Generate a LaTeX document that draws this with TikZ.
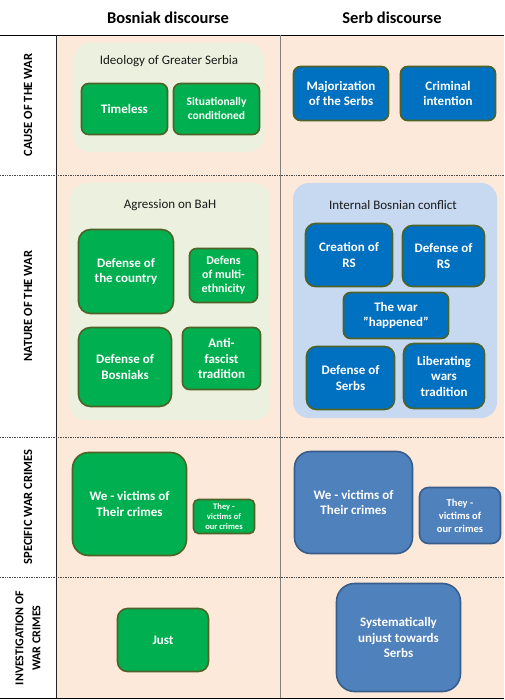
\documentclass[tikz,border=0pt]{standalone}
\usepackage{fontspec}
\setmainfont{Carlito}
\usetikzlibrary{positioning}
\definecolor{peach}{HTML}{FDE9D9}
\definecolor{grnfill}{HTML}{00B050}
\definecolor{olive}{HTML}{4F6228}
\definecolor{blufill}{HTML}{0070C0}
\definecolor{steel}{HTML}{4F81BD}
\definecolor{steeledge}{HTML}{385D8A}
\definecolor{grpgreen}{HTML}{EBF1DE}
\definecolor{grpblue}{HTML}{C6D9F1}
\tikzset{
  box/.style={draw,line width=1.6pt,rounded corners=7pt,align=center,text=white,
              font=\fontsize{13}{15.5}\selectfont\bfseries,inner sep=2pt},
  gbox/.style={box,fill=grnfill,draw=olive},     % green, Bosniak side
  bbox/.style={box,fill=blufill,draw=olive},     % dark blue, Serb side
  sbox/.style={box,fill=steel,draw=steeledge,rounded corners=12pt}, % steel blue
  grp/.style={rounded corners=16pt,inner sep=0pt},
  ttl/.style={font=\fontsize{13}{15.5}\selectfont,text=black!90},
  rowlbl/.style={rotate=90,font=\fontsize{12.5}{15}\selectfont\bfseries,align=center},
  hdr/.style={font=\fontsize{16.5}{19}\selectfont\bfseries},
  sep/.style={densely dotted,black!70,line width=0.7pt}
}

\begin{document}
\begin{tikzpicture}[x=1pt,y=-1pt]
  \useasboundingbox (0,0) rectangle (504,700);
  \fill[peach] (56,35) rectangle (504,698);

  % column heads
  \node[hdr] (bosh) at (168,18) {Bosniak discourse};
  \node[hdr] (serh) at (392,18) {Serb discourse};

  % grid
  \draw[line width=0.8pt] (0,35) -- (504,35);
  \draw[line width=0.8pt] (0,698) -- (504,698);
  \draw[line width=0.8pt,black!85] (56,35) -- (56,698);
  \draw[line width=0.9pt,black!50] (280,35) -- (280,698);
  \draw[sep] (0,175) -- (504,175);
  \draw[sep] (0,437) -- (504,437);
  \draw[sep] (0,577) -- (504,577);

  % row labels
  \node[rowlbl] (cause) at (28,105) {CAUSE OF THE WAR};
  \node[rowlbl] (nature) at (28,306) {NATURE OF THE WAR};
  \node[rowlbl] (spec) at (28,507) {SPECIFIC WAR CRIMES};
  \node[rowlbl,font=\fontsize{12}{17}\selectfont\bfseries] (invest) at (28,638)
    {INVESTIGATION OF\\WAR CRIMES};

  % cause of the war
  \node[grp,fill=grpgreen,minimum width=190pt,minimum height=109pt] (ideo) at (169,97.5) {};
  \node[ttl] (ideot) at (169,61) {Ideology of Greater Serbia};
  \node[gbox,minimum width=86pt,minimum height=51pt] (timeless) at (124.5,109) {Timeless};
  \node[gbox,minimum width=86pt,minimum height=51pt,font=\fontsize{11.5}{14}\selectfont\bfseries]
    (situ) at (216.5,109) {Situationally\\conditioned};
  \node[bbox,minimum width=95pt,minimum height=54pt] (major) at (341,93.5) {Majorization\\of the Serbs};
  \node[bbox,minimum width=95pt,minimum height=54pt] (crim) at (448,93.5) {Criminal\\intention};

  % nature of the war
  \node[grp,fill=grpgreen,minimum width=200pt,minimum height=237pt] (aggr) at (170,301.5) {};
  \node[ttl] (aggrt) at (170,205) {Agression on BaH};
  \node[gbox,minimum width=95pt,minimum height=84pt,rounded corners=12pt] (dcountry) at (126,271.5)
    {Defense of\\the country};
  \node[gbox,minimum width=68pt,minimum height=54pt,font=\fontsize{12}{14}\selectfont\bfseries]
    (dmulti) at (223.5,275.5) {Defens\\of multi-\\ethnicity};
  \node[gbox,minimum width=93pt,minimum height=79pt,rounded corners=12pt] (dbosn) at (125,367)
    {Defense of\\Bosniaks};
  \node[gbox,minimum width=78pt,minimum height=62pt] (antif) at (221.5,358.5) {Anti-\\fascist\\tradition};

  \node[grp,fill=grpblue,minimum width=204pt,minimum height=235pt] (inter) at (395,300.5) {};
  \node[ttl] (intert) at (393,205) {Internal Bosnian conflict};
  \node[bbox,minimum width=87pt,minimum height=63pt,rounded corners=10pt] (creat) at (349,255) {Creation of\\RS};
  \node[bbox,minimum width=82pt,minimum height=61pt,rounded corners=10pt] (defrs) at (443.5,256) {Defense of\\RS};
  \node[bbox,minimum width=105pt,minimum height=46pt] (happ) at (396,315.5) {The war\\"happened"};
  \node[bbox,minimum width=88pt,minimum height=63pt,rounded corners=10pt] (dserb) at (350.5,378) {Defense of\\Serbs};
  \node[bbox,minimum width=81pt,minimum height=65pt,rounded corners=10pt] (liber) at (444,376) {Liberating\\wars\\tradition};

  % specific war crimes
  \node[gbox,minimum width=114pt,minimum height=103pt,rounded corners=16pt] (wevg) at (129.5,504)
    {We - victims of\\Their crimes};
  \node[gbox,minimum width=61pt,minimum height=34pt,rounded corners=5pt,
        font=\fontsize{8.5}{10}\selectfont\bfseries] (theyg) at (224,516.5)
    {They -\\victims of\\our crimes};
  \node[sbox,minimum width=118pt,minimum height=102pt,rounded corners=16pt] (wevb) at (353.5,502.5)
    {We - victims of\\Their crimes};
  \node[sbox,minimum width=81pt,minimum height=56pt,rounded corners=9pt,
        font=\fontsize{10.5}{13}\selectfont\bfseries] (theyb) at (460,515.5)
    {They -\\victims of\\our crimes};

  % investigation of war crimes
  \node[gbox,minimum width=91pt,minimum height=63pt,rounded corners=10pt] (just) at (163,640) {Just};
  \node[sbox,minimum width=124pt,minimum height=108pt,rounded corners=18pt] (unjust) at (398.5,637.5)
    {Systematically\\unjust towards\\Serbs};
\end{tikzpicture}
\end{document}
